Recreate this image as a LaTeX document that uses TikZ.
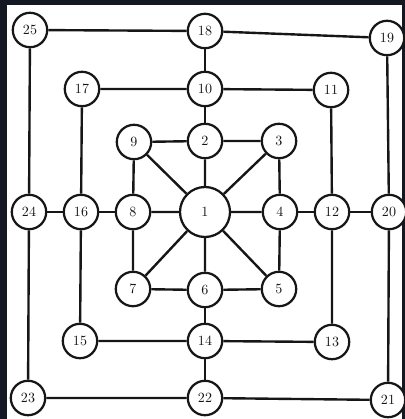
\documentclass[tikz,border=0pt]{standalone}
\usepackage{tikz}
\definecolor{frame}{RGB}{20,24,34}
\definecolor{ink}{RGB}{22,22,22}

\begin{document}
\begin{tikzpicture}[
  x=.025cm,
  y=-.025cm,
  spot/.style={
    circle,
    draw=ink,
    fill=white,
    line width=1.6pt,
    minimum size=.86cm,
    inner sep=0pt,
    font=\normalsize,
    text=ink
  },
  hub/.style={spot,minimum size=1.25cm},
  link/.style={ink,line width=1.7pt}
]
% board background
\fill[frame] (0,0) rectangle (405,419);
\fill[white] (7,5) rectangle (402,419);
\useasboundingbox (0,0) rectangle (405,419);

% outer square
\node[spot] (n25) at (30,30)  {25};
\node[spot] (n18) at (205,31) {18};
\node[spot] (n19) at (387,38) {19};
\node[spot] (n24) at (29,212) {24};
\node[spot] (n20) at (389,212) {20};
\node[spot] (n23) at (28,398) {23};
\node[spot] (n22) at (205,398) {22};
\node[spot] (n21) at (388,400) {21};

% middle square
\node[spot] (n17) at (82,89)  {17};
\node[spot] (n10) at (205,89) {10};
\node[spot] (n11) at (331,90) {11};
\node[spot] (n16) at (81,212) {16};
\node[spot] (n12) at (332,212) {12};
\node[spot] (n15) at (80,341) {15};
\node[spot] (n14) at (205,341) {14};
\node[spot] (n13) at (332,342) {13};

% inner square
\node[spot] (n9) at (134,142) {9};
\node[spot] (n2) at (205,141) {2};
\node[spot] (n3) at (279,141) {3};
\node[spot] (n8) at (133,212) {8};
\node[hub]  (n1) at (205,212) {1};
\node[spot] (n4) at (280,212) {4};
\node[spot] (n7) at (133,289) {7};
\node[spot] (n6) at (205,290) {6};
\node[spot] (n5) at (279,289) {5};

% squares
\draw[link] (n25) -- (n18) (n18) -- (n19) (n19) -- (n20) (n20) -- (n21)
  (n21) -- (n22) (n22) -- (n23) (n23) -- (n24) (n24) -- (n25);
\draw[link] (n17) -- (n10) (n10) -- (n11) (n11) -- (n12) (n12) -- (n13)
  (n13) -- (n14) (n14) -- (n15) (n15) -- (n16) (n16) -- (n17);
\draw[link] (n9) -- (n2) (n2) -- (n3) (n3) -- (n4) (n4) -- (n5)
  (n5) -- (n6) (n6) -- (n7) (n7) -- (n8) (n8) -- (n9);

% cross lines
\draw[link] (n18) -- (n10) (n10) -- (n2) (n6) -- (n14) (n14) -- (n22);
\draw[link] (n24) -- (n16) (n16) -- (n8) (n4) -- (n12) (n12) -- (n20);

% spokes from the centre
\draw[link] (n1) -- (n2) (n1) -- (n3) (n1) -- (n4) (n1) -- (n5)
  (n1) -- (n6) (n1) -- (n7) (n1) -- (n8) (n1) -- (n9);
\end{tikzpicture}
\end{document}
